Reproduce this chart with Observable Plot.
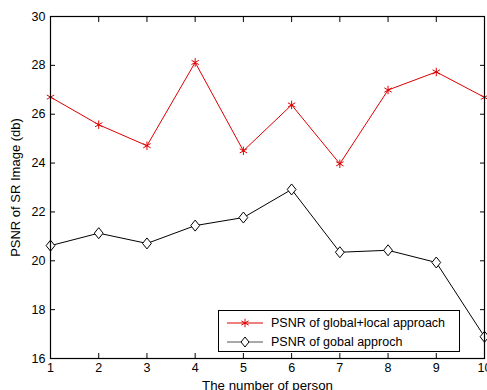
<!DOCTYPE html>
<html><head><meta charset="utf-8">
<script src="https://cdn.jsdelivr.net/npm/d3@7"></script>
<script src="https://cdn.jsdelivr.net/npm/@observablehq/plot@0.6"></script>
<style>
body{margin:0;background:#fff;font-family:"Liberation Sans",Arial,Helvetica,sans-serif;}
#wrap{position:relative;width:487px;height:390px;overflow:hidden}
#legend{position:absolute;left:218px;top:310px;width:242px;height:42px;border:1px solid #000;background:#fff;font-size:12.5px;box-sizing:border-box}
#legend .row{position:absolute;left:0;height:18px;display:flex;align-items:center;white-space:nowrap}
#legend svg{display:block}
</style></head><body><div id="wrap"></div>
<script>
const persons = [1, 2, 3, 4, 5, 6, 7, 8, 9, 10];
const globalLocal = [26.70, 25.57, 24.71, 28.12, 24.50, 26.38, 23.97, 26.99, 27.73, 26.69];
const globalOnly = [20.62, 21.13, 20.71, 21.44, 21.77, 22.92, 20.35, 20.43, 19.93, 16.89];
const yTicks = [16, 18, 20, 22, 24, 26, 28, 30];
const seriesNames = ["PSNR of global+local approach", "PSNR of gobal approch"];
const seriesColors = ["#dd0000", "#000000"];

// MATLAB-like diamond (slightly narrower than tall)
const matDiamond = {
  draw(context, size) {
    const h = Math.sqrt(size) * 0.62, w = h * 0.8;
    context.moveTo(0, -h); context.lineTo(w, 0); context.lineTo(0, h); context.lineTo(-w, 0); context.closePath();
  }
};

const rowsA = persons.map((p, i) => ({p, v: globalLocal[i]}));
const rowsB = persons.map((p, i) => ({p, v: globalOnly[i]}));

const chart = Plot.plot({
  width: 487, height: 390,
  marginLeft: 50, marginRight: 3, marginTop: 16, marginBottom: 32,
  style: {fontFamily: "'Liberation Sans', Arial, Helvetica, sans-serif", fontSize: "12.5px", background: "#fff", color: "#000"},
  x: {domain: [1, 10], ticks: persons},
  y: {domain: [16, 30], ticks: yTicks},
  marks: [
    Plot.axisX(persons, {anchor: "bottom", tickSize: -5, tickPadding: 10, label: null}),
    Plot.axisX({anchor: "bottom", ticks: [], label: "The number of person", labelAnchor: "center", labelOffset: 31, labelArrow: "none", fontSize: 13.3}),
    Plot.axisX(persons, {anchor: "top", tickSize: -5, tickFormat: () => "", label: null}),
    Plot.axisY(yTicks, {anchor: "left", tickSize: -5, tickPadding: 10, label: null}),
    Plot.axisY({anchor: "left", ticks: [], label: "PSNR of SR Image (db)", labelAnchor: "center", labelOffset: 40, labelArrow: "none", fontSize: 13}),
    Plot.axisY(yTicks, {anchor: "right", tickSize: -5, tickFormat: () => "", label: null}),
    Plot.line(rowsA, {x: "p", y: "v", stroke: seriesColors[0], strokeWidth: 1}),
    Plot.dot(rowsA, {x: "p", y: "v", symbol: "asterisk", stroke: seriesColors[0], r: 4, strokeWidth: 1}),
    Plot.line(rowsB, {x: "p", y: "v", stroke: seriesColors[1], strokeWidth: 1}),
    Plot.dot(rowsB, {x: "p", y: "v", symbol: matDiamond, stroke: seriesColors[1], fill: "#fff", r: 5, strokeWidth: 1}),
    Plot.frame({stroke: "#000", strokeWidth: 1.2})
  ]
});
const wrap = document.getElementById("wrap");
wrap.appendChild(chart);

// legend
const legend = document.createElement("div");
legend.id = "legend";
const markerSvg = [
  `<svg width="50" height="14"><line x1="8" y1="7" x2="44" y2="7" stroke="${seriesColors[0]}" stroke-width="1"/><path transform="translate(26,7)" d="${d3.symbol(d3.symbolAsterisk, 50)()}" stroke="${seriesColors[0]}" fill="none"/></svg>`,
  `<svg width="50" height="14"><line x1="8" y1="7" x2="44" y2="7" stroke="#555" stroke-width="1.2"/><path transform="translate(26,7)" d="M0,-5L4,0L0,5L-4,0Z" stroke="#000" fill="#fff"/></svg>`
];
seriesNames.forEach((name, i) => {
  const row = document.createElement("div");
  row.className = "row";
  row.style.top = (i === 0 ? 3 : 22) + "px";
  row.innerHTML = markerSvg[i] + `<span style="margin-left:2px">${name}</span>`;
  legend.appendChild(row);
});
wrap.appendChild(legend);
</script>
</body></html>
